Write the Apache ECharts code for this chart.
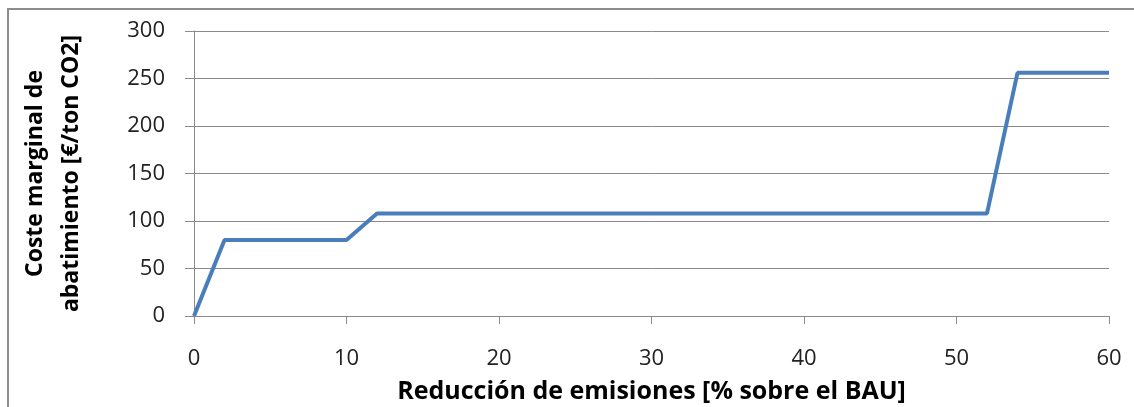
<!DOCTYPE html>
<html>
<head>
<meta charset="utf-8">
<script src="https://cdn.jsdelivr.net/npm/echarts@6/dist/echarts.min.js"></script>
<style>
html, body { margin: 0; padding: 0; background: #fff; }
#chart { width: 1134px; height: 407px; }
</style>
</head>
<body>
<div id="chart"></div>
<script>
// reduccion [% sobre el BAU] -> coste marginal [€/ton CO2]
var reduccion = [0, 2, 10, 12, 52, 54, 60];
var coste = [0, 80, 80, 108, 108, 256, 256];
var yTicks = [0, 50, 100, 150, 200, 250, 300];
var xTicks = [0, 10, 20, 30, 40, 50, 60];

function renderChart() {
    var dom = document.getElementById('chart');
    var myChart = echarts.init(dom);
    var fontFam = 'Open Sans';
    var gridColor = '#8a8a8a';

    var option = {
        backgroundColor: '#FFFFFF',
        animation: false,
        graphic: [{
            type: 'rect',
            shape: { x: 8, y: 9, width: 1160, height: 440 },
            style: { fill: 'none', stroke: '#8c8c8c', lineWidth: 2 }
        }],
        grid: {
            left: 194,
            right: 25,
            top: 31,
            bottom: 91,
            outerBoundsMode: 'none'
        },
        xAxis: {
            type: 'value',
            min: xTicks[0],
            max: xTicks[xTicks.length - 1],
            interval: 10,
            name: 'Reducción de emisiones [% sobre el BAU]',
            nameLocation: 'middle',
            nameGap: 63,
            nameTextStyle: { fontFamily: fontFam, fontWeight: 'bold', fontSize: 25, color: '#000' },
            axisLine: { show: true, lineStyle: { color: gridColor, width: 1 } },
            axisTick: { show: true, length: 8, lineStyle: { color: gridColor } },
            axisLabel: { margin: 32, fontFamily: fontFam, fontSize: 22, color: '#222' },
            splitLine: { show: false }
        },
        yAxis: {
            type: 'value',
            min: yTicks[0],
            max: yTicks[yTicks.length - 1],
            interval: 50,
            name: 'Coste marginal de\nabatimiento [€/ton CO2]',
            nameLocation: 'middle',
            nameGap: 105,
            nameTextStyle: { fontFamily: fontFam, fontWeight: 'bold', fontSize: 23, color: '#000', lineHeight: 36 },
            axisLine: { show: true, lineStyle: { color: gridColor, width: 1 } },
            axisTick: { show: true, length: 9, lineStyle: { color: gridColor } },
            axisLabel: { margin: 29, fontFamily: fontFam, fontSize: 22, color: '#222' },
            splitLine: { show: true, lineStyle: { color: gridColor, width: 1 } }
        },
        series: [{
            type: 'line',
            data: reduccion.map(function (x, i) { return [x, coste[i]]; }),
            symbol: 'none',
            lineStyle: { color: '#4A7EBB', width: 4 },
            itemStyle: { color: '#4A7EBB' }
        }]
    };

    myChart.setOption(option);
}
renderChart();
</script>
</body>
</html>
